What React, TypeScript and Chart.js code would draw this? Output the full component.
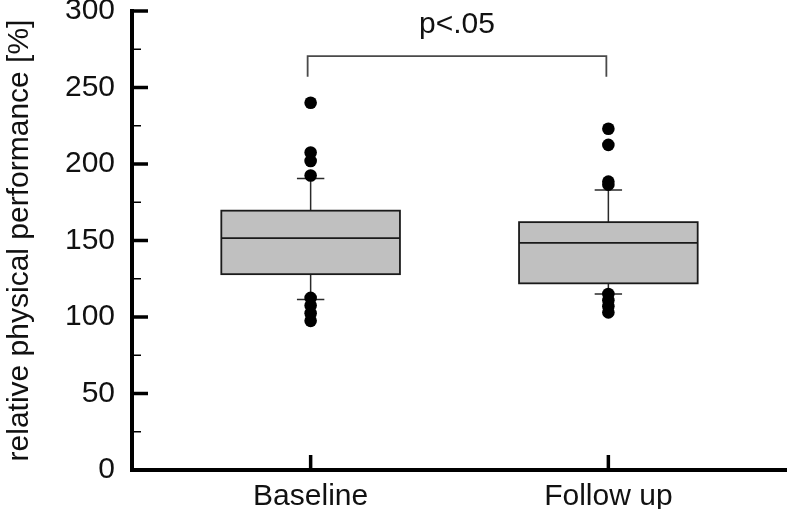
import React, { useEffect, useRef } from 'react';
import { Chart, registerables } from 'chart.js';

Chart.register(...registerables);

// ---- data ----
const categories = ['Baseline', 'Follow up'];
const q1 = [128, 122];
const medians = [151.5, 148.5];
const q3 = [169.5, 162];
const whiskerLow = [111.5, 115];
const whiskerHigh = [190.5, 183];
const outliersBaseline = [240, 207.5, 202, 192.5, 112.5, 107.5, 102.5, 97.5];
const outliersFollowUp = [223, 212.5, 188.5, 186.5, 115, 111, 107, 103];
const yTickValues = [0, 25, 50, 75, 100, 125, 150, 175, 200, 225, 250, 275, 300];
const yTitle = 'relative physical performance [%]';
const significanceText = 'p<.05';
const bracketTop = 270.5;
const bracketBottom = 257;
const significanceY = 291;

const FONT = '"Liberation Sans", Arial, Helvetica, sans-serif';

const boxPlugin = {
  id: 'boxPlugin',
  beforeDatasetsDraw(chart: any) {
    const { ctx } = chart;
    const x = chart.scales.x;
    const y = chart.scales.y;
    ctx.save();
    for (let i = 0; i < categories.length; i++) {
      const cx = x.getPixelForValue(i);
      const hw = x.getPixelForValue(i + 0.3) - cx;
      const capW = x.getPixelForValue(i + 0.046) - cx;
      const yq1 = y.getPixelForValue(q1[i]);
      const yq3 = y.getPixelForValue(q3[i]);
      const ymed = y.getPixelForValue(medians[i]);
      const ylo = y.getPixelForValue(whiskerLow[i]);
      const yhi = y.getPixelForValue(whiskerHigh[i]);
      ctx.strokeStyle = '#2a2a2a';
      ctx.lineWidth = 1.5;
      ctx.beginPath();
      ctx.moveTo(cx, yq3);
      ctx.lineTo(cx, yhi);
      ctx.moveTo(cx - capW, yhi);
      ctx.lineTo(cx + capW, yhi);
      ctx.moveTo(cx, yq1);
      ctx.lineTo(cx, ylo);
      ctx.moveTo(cx - capW, ylo);
      ctx.lineTo(cx + capW, ylo);
      ctx.stroke();
      ctx.fillStyle = '#c0c0c0';
      ctx.fillRect(cx - hw, yq3, hw * 2, yq1 - yq3);
      ctx.strokeStyle = '#1a1a1a';
      ctx.lineWidth = 1.8;
      ctx.strokeRect(cx - hw, yq3, hw * 2, yq1 - yq3);
      ctx.beginPath();
      ctx.moveTo(cx - hw, ymed);
      ctx.lineTo(cx + hw, ymed);
      ctx.stroke();
    }
    ctx.restore();
  },
  afterDraw(chart: any) {
    const { ctx } = chart;
    const x = chart.scales.x;
    const y = chart.scales.y;
    const axisX = chart.chartArea.left;
    const axisY = chart.chartArea.bottom;
    ctx.save();
    ctx.strokeStyle = '#000';
    y.ticks.forEach((t: any) => {
      const py = y.getPixelForValue(t.value);
      const major = t.value % 50 === 0;
      ctx.lineWidth = major ? 3.5 : 1.5;
      ctx.beginPath();
      ctx.moveTo(axisX, py);
      ctx.lineTo(axisX + (major ? 16 : 9), py);
      ctx.stroke();
    });
    x.ticks.forEach((t: any) => {
      const px = x.getPixelForValue(t.value);
      ctx.lineWidth = 3.5;
      ctx.beginPath();
      ctx.moveTo(px, axisY);
      ctx.lineTo(px, axisY - 15);
      ctx.stroke();
    });
    const bx0 = x.getPixelForValue(0) - 3;
    const bx1 = x.getPixelForValue(1) - 2;
    const byTop = y.getPixelForValue(bracketTop);
    const byBot = y.getPixelForValue(bracketBottom);
    ctx.strokeStyle = '#4a4a4a';
    ctx.lineWidth = 1.8;
    ctx.beginPath();
    ctx.moveTo(bx0, byBot);
    ctx.lineTo(bx0, byTop);
    ctx.lineTo(bx1, byTop);
    ctx.lineTo(bx1, byBot);
    ctx.stroke();
    ctx.fillStyle = '#111';
    ctx.font = `30px ${FONT}`;
    ctx.textAlign = 'center';
    ctx.textBaseline = 'middle';
    ctx.fillText(significanceText, (bx0 + bx1) / 2, y.getPixelForValue(significanceY));
    ctx.restore();
  },
};

export default function App() {
  const ref = useRef<HTMLCanvasElement | null>(null);
  useEffect(() => {
    document.body.style.margin = '0';
    if (!ref.current) return;
    const pts = (vals: number[], idx: number) => vals.map((v) => ({ x: idx, y: v }));
    const chart = new Chart(ref.current, {
      type: 'scatter',
      data: {
        datasets: [
          { label: categories[0], data: pts(outliersBaseline, 0) },
          { label: categories[1], data: pts(outliersFollowUp, 1) },
        ],
      },
      options: {
        responsive: false,
        animation: false,
        devicePixelRatio: 1,
        layout: { autoPadding: false, padding: { top: 11, left: 0, right: 0, bottom: 0 } },
        elements: {
          point: { radius: 6.3, backgroundColor: '#000', borderWidth: 0, hoverRadius: 6.3 },
        },
        plugins: { legend: { display: false }, tooltip: { enabled: false } },
        scales: {
          x: {
            type: 'linear',
            position: 'bottom',
            min: -0.6,
            max: 1.6,
            grid: { display: false, drawTicks: false },
            border: { display: true, color: '#000', width: 4 },
            afterBuildTicks: (scale: any) => {
              scale.ticks = categories.map((_, i) => ({ value: i }));
            },
            ticks: {
              color: '#111',
              font: { family: FONT, size: 30 },
              padding: 9,
              maxRotation: 0,
              autoSkip: false,
              callback: (v: any) => categories[Number(v)] ?? '',
            },
            afterFit: (scale: any) => {
              scale.height = 39;
              scale.paddingLeft = 0;
              scale.paddingRight = 0;
            },
          },
          y: {
            type: 'linear',
            min: 0,
            max: 300,
            grid: { display: false, drawTicks: false },
            border: { display: true, color: '#000', width: 4 },
            afterBuildTicks: (scale: any) => {
              scale.ticks = yTickValues.map((v) => ({ value: v }));
            },
            ticks: {
              color: '#111',
              font: { family: FONT, size: 30 },
              padding: 17,
              autoSkip: false,
              callback: (v: any) => (Number(v) % 50 === 0 ? String(v) : ''),
            },
            title: {
              display: true,
              text: yTitle,
              color: '#111',
              font: { family: FONT, size: 30 },
              padding: { top: 2, bottom: 2 },
            },
            afterFit: (scale: any) => {
              scale.width = 132;
              scale.paddingTop = 0;
              scale.paddingBottom = 0;
            },
          },
        },
      },
      plugins: [boxPlugin],
    });
    return () => chart.destroy();
  }, []);
  return (
    <div style={{ position: 'absolute', left: 0, top: 0, width: 787, height: 509, background: '#fff' }}>
      <canvas ref={ref} width={787} height={509} style={{ display: 'block' }} />
    </div>
  );
}
